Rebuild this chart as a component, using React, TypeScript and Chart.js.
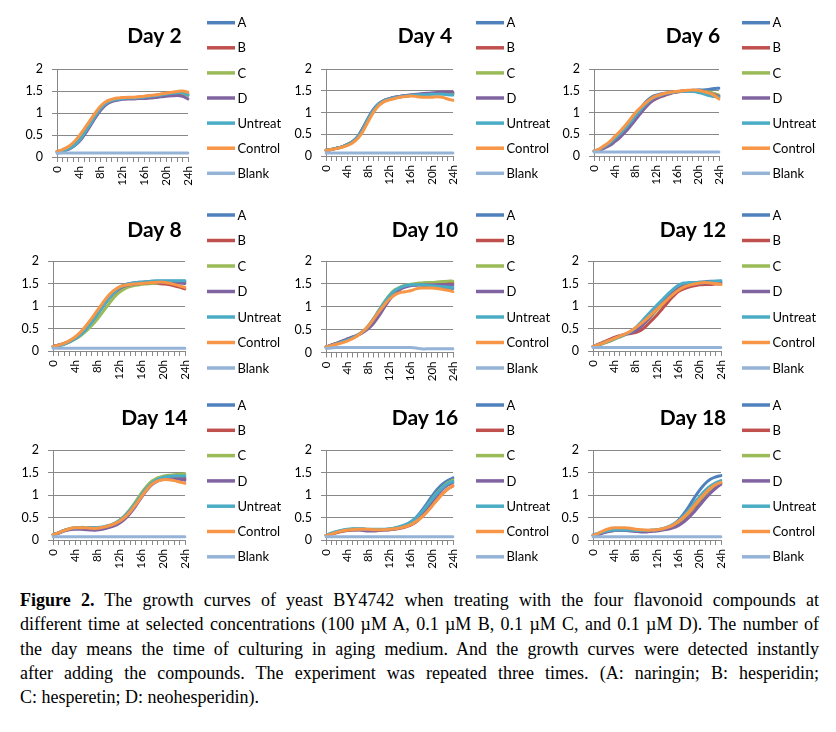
import React, { useEffect, useRef } from 'react';
import { Chart, registerables } from 'chart.js';

Chart.register(...registerables);

// ---------- categories, names, tick labels ----------
const HOURS = ['0','1h','2h','3h','4h','5h','6h','7h','8h','9h','10h','11h','12h','13h','14h','15h','16h','17h','18h','19h','20h','21h','22h','23h','24h'];
const SHOWN_TICKS = ['0','4h','8h','12h','16h','20h','24h'];
const Y_TICKS = [0, 0.5, 1, 1.5, 2];
const SERIES_NAMES = ['A','B','C','D','Untreat','Control','Blank'];
const SERIES_COLORS = ['#4F81BD','#C0504D','#9BBB59','#8064A2','#4BACC6','#F79646','#95B3D7'];
const PANEL_TITLES = ['Day 2','Day 4','Day 6','Day 8','Day 10','Day 12','Day 14','Day 16','Day 18'];

// ---------- Day 2 ----------
const D2_A = [0.12,0.14,0.18,0.25,0.36,0.52,0.71,0.91,1.08,1.20,1.27,1.31,1.33,1.34,1.34,1.35,1.36,1.38,1.39,1.41,1.43,1.45,1.46,1.45,1.40];
const D2_B = [0.12,0.15,0.19,0.27,0.39,0.56,0.75,0.95,1.11,1.23,1.29,1.32,1.34,1.35,1.35,1.36,1.37,1.39,1.40,1.42,1.44,1.46,1.47,1.46,1.42];
const D2_C = [0.12,0.14,0.18,0.25,0.36,0.53,0.72,0.92,1.09,1.21,1.28,1.31,1.33,1.34,1.34,1.35,1.36,1.37,1.38,1.40,1.42,1.44,1.45,1.44,1.41];
const D2_D = [0.12,0.14,0.17,0.24,0.34,0.50,0.69,0.89,1.06,1.19,1.26,1.29,1.31,1.32,1.32,1.33,1.33,1.34,1.35,1.37,1.38,1.39,1.40,1.38,1.32];
const D2_U = [0.12,0.14,0.18,0.25,0.37,0.54,0.73,0.93,1.10,1.22,1.28,1.31,1.33,1.34,1.34,1.35,1.36,1.38,1.39,1.41,1.43,1.45,1.46,1.46,1.42];
const D2_K = [0.12,0.17,0.23,0.33,0.47,0.64,0.82,1.00,1.16,1.26,1.31,1.34,1.35,1.36,1.36,1.37,1.38,1.40,1.41,1.43,1.45,1.47,1.49,1.50,1.47];
const D2_BL = [0.08,0.09,0.09,0.09,0.09,0.09,0.09,0.09,0.09,0.09,0.09,0.09,0.09,0.09,0.09,0.09,0.09,0.09,0.09,0.09,0.09,0.09,0.09,0.09,0.09];

// ---------- Day 4 ----------
const D4_A = [0.13,0.15,0.18,0.21,0.26,0.33,0.45,0.65,0.88,1.08,1.21,1.28,1.32,1.35,1.37,1.39,1.40,1.41,1.42,1.43,1.44,1.45,1.45,1.45,1.45];
const D4_B = [0.13,0.15,0.18,0.21,0.26,0.32,0.43,0.62,0.85,1.05,1.19,1.27,1.31,1.34,1.36,1.38,1.39,1.40,1.41,1.42,1.43,1.44,1.44,1.44,1.43];
const D4_C = [0.13,0.15,0.18,0.21,0.26,0.32,0.43,0.62,0.85,1.05,1.19,1.27,1.31,1.34,1.36,1.38,1.39,1.40,1.41,1.42,1.43,1.44,1.44,1.44,1.44];
const D4_D = [0.13,0.15,0.18,0.21,0.26,0.33,0.44,0.64,0.87,1.07,1.20,1.28,1.32,1.35,1.37,1.39,1.40,1.42,1.43,1.44,1.45,1.46,1.47,1.47,1.47];
const D4_U = [0.13,0.15,0.18,0.21,0.26,0.32,0.43,0.62,0.86,1.06,1.20,1.27,1.31,1.34,1.36,1.38,1.39,1.40,1.41,1.41,1.42,1.42,1.42,1.41,1.40];
const D4_K = [0.13,0.15,0.17,0.20,0.24,0.30,0.40,0.57,0.80,1.01,1.16,1.25,1.29,1.32,1.35,1.37,1.38,1.37,1.35,1.35,1.35,1.36,1.35,1.31,1.28];
const D4_BL = [0.07,0.07,0.07,0.07,0.07,0.07,0.07,0.07,0.07,0.07,0.07,0.07,0.07,0.07,0.07,0.07,0.07,0.07,0.07,0.07,0.07,0.07,0.07,0.07,0.07];

// ---------- Day 6 ----------
const D6_A = [0.11,0.15,0.22,0.30,0.40,0.51,0.64,0.78,0.94,1.10,1.25,1.35,1.40,1.43,1.45,1.47,1.48,1.49,1.50,1.51,1.52,1.52,1.53,1.55,1.56];
const D6_B = [0.11,0.14,0.20,0.27,0.36,0.46,0.58,0.72,0.87,1.01,1.14,1.25,1.32,1.37,1.41,1.45,1.47,1.49,1.50,1.50,1.50,1.49,1.46,1.43,1.38];
const D6_C = [0.11,0.15,0.21,0.28,0.38,0.48,0.61,0.75,0.90,1.04,1.17,1.28,1.35,1.40,1.43,1.46,1.48,1.49,1.50,1.50,1.50,1.49,1.47,1.44,1.40];
const D6_D = [0.11,0.13,0.18,0.24,0.33,0.43,0.55,0.69,0.84,0.99,1.13,1.25,1.33,1.38,1.42,1.46,1.48,1.49,1.50,1.50,1.49,1.48,1.45,1.41,1.37];
const D6_U = [0.11,0.15,0.22,0.30,0.40,0.51,0.64,0.78,0.93,1.07,1.20,1.31,1.37,1.41,1.44,1.46,1.48,1.49,1.49,1.48,1.46,1.43,1.39,1.37,1.35];
const D6_K = [0.11,0.16,0.24,0.33,0.45,0.57,0.70,0.85,1.00,1.12,1.23,1.32,1.38,1.42,1.45,1.47,1.49,1.50,1.51,1.52,1.51,1.48,1.45,1.40,1.31];
const D6_BL = [0.09,0.09,0.09,0.09,0.09,0.09,0.09,0.09,0.09,0.09,0.09,0.09,0.09,0.09,0.09,0.09,0.09,0.09,0.09,0.09,0.09,0.09,0.09,0.09,0.09];

// ---------- Day 8 ----------
const D8_A = [0.10,0.13,0.16,0.21,0.28,0.38,0.51,0.66,0.83,1.00,1.17,1.31,1.41,1.47,1.50,1.52,1.53,1.54,1.55,1.55,1.55,1.55,1.55,1.55,1.55];
const D8_B = [0.10,0.13,0.17,0.22,0.29,0.39,0.52,0.67,0.84,1.01,1.17,1.30,1.39,1.44,1.47,1.49,1.50,1.51,1.51,1.50,1.49,1.48,1.45,1.42,1.38];
const D8_C = [0.10,0.12,0.15,0.20,0.26,0.34,0.44,0.56,0.70,0.86,1.02,1.18,1.30,1.38,1.43,1.46,1.48,1.49,1.50,1.51,1.52,1.52,1.52,1.52,1.52];
const D8_D = [0.10,0.13,0.16,0.21,0.28,0.38,0.50,0.65,0.81,0.98,1.14,1.28,1.38,1.44,1.47,1.49,1.50,1.51,1.52,1.52,1.52,1.52,1.52,1.51,1.50];
const D8_U = [0.10,0.12,0.15,0.20,0.27,0.36,0.48,0.63,0.80,0.97,1.14,1.29,1.40,1.46,1.50,1.52,1.53,1.54,1.55,1.56,1.56,1.56,1.56,1.56,1.56];
const D8_K = [0.10,0.13,0.17,0.23,0.31,0.42,0.56,0.72,0.89,1.06,1.22,1.34,1.42,1.46,1.48,1.49,1.50,1.51,1.52,1.53,1.53,1.51,1.48,1.45,1.41];
const D8_BL = [0.06,0.06,0.06,0.06,0.06,0.06,0.06,0.06,0.06,0.06,0.06,0.06,0.06,0.06,0.06,0.06,0.06,0.06,0.06,0.06,0.06,0.06,0.06,0.06,0.06];

// ---------- Day 10 ----------
const D10_A = [0.12,0.16,0.20,0.24,0.28,0.33,0.38,0.46,0.57,0.72,0.89,1.06,1.21,1.33,1.40,1.45,1.47,1.48,1.47,1.46,1.45,1.44,1.42,1.41,1.40];
const D10_B = [0.12,0.16,0.20,0.24,0.28,0.33,0.38,0.45,0.55,0.70,0.87,1.04,1.20,1.33,1.41,1.45,1.47,1.48,1.49,1.49,1.50,1.50,1.51,1.51,1.52];
const D10_C = [0.12,0.15,0.19,0.23,0.27,0.32,0.38,0.46,0.58,0.74,0.92,1.10,1.26,1.37,1.43,1.47,1.49,1.51,1.52,1.53,1.53,1.54,1.55,1.56,1.56];
const D10_D = [0.12,0.16,0.20,0.25,0.30,0.34,0.38,0.44,0.52,0.64,0.80,0.98,1.15,1.29,1.38,1.43,1.46,1.47,1.48,1.48,1.48,1.48,1.48,1.48,1.48];
const D10_U = [0.12,0.15,0.19,0.23,0.27,0.32,0.38,0.46,0.58,0.74,0.92,1.09,1.24,1.35,1.42,1.46,1.48,1.48,1.48,1.47,1.46,1.45,1.44,1.43,1.42];
const D10_K = [0.12,0.15,0.18,0.21,0.25,0.30,0.37,0.46,0.58,0.73,0.89,1.04,1.17,1.26,1.31,1.33,1.35,1.39,1.41,1.41,1.41,1.40,1.38,1.36,1.33];
const D10_BL = [0.09,0.10,0.11,0.11,0.11,0.11,0.11,0.11,0.11,0.11,0.11,0.11,0.11,0.11,0.11,0.11,0.11,0.10,0.08,0.08,0.08,0.08,0.08,0.08,0.08];

// ---------- Day 12 ----------
const D12_A = [0.10,0.14,0.18,0.22,0.27,0.32,0.37,0.42,0.49,0.59,0.72,0.85,0.98,1.10,1.22,1.33,1.42,1.48,1.51,1.52,1.53,1.54,1.55,1.55,1.55];
const D12_B = [0.10,0.15,0.20,0.25,0.30,0.34,0.37,0.39,0.41,0.46,0.56,0.68,0.80,0.94,1.08,1.21,1.32,1.38,1.42,1.45,1.47,1.48,1.48,1.49,1.49];
const D12_C = [0.10,0.13,0.17,0.21,0.26,0.31,0.36,0.42,0.48,0.56,0.66,0.78,0.91,1.04,1.17,1.29,1.38,1.44,1.48,1.50,1.51,1.52,1.52,1.52,1.52];
const D12_D = [0.10,0.14,0.18,0.23,0.28,0.33,0.37,0.40,0.45,0.54,0.66,0.80,0.94,1.07,1.19,1.30,1.38,1.44,1.47,1.49,1.50,1.51,1.51,1.51,1.51];
const D12_U = [0.10,0.14,0.18,0.22,0.27,0.32,0.37,0.43,0.52,0.64,0.77,0.90,1.02,1.14,1.26,1.37,1.46,1.51,1.52,1.52,1.53,1.53,1.54,1.55,1.56];
const D12_K = [0.10,0.14,0.18,0.23,0.28,0.33,0.38,0.44,0.52,0.61,0.71,0.82,0.93,1.04,1.15,1.26,1.35,1.42,1.46,1.49,1.51,1.52,1.51,1.50,1.48];
const D12_BL = [0.08,0.08,0.08,0.08,0.08,0.08,0.08,0.08,0.08,0.08,0.08,0.08,0.08,0.08,0.08,0.08,0.08,0.08,0.08,0.08,0.08,0.08,0.08,0.08,0.08];

// ---------- Day 14 ----------
const D14_A = [0.12,0.16,0.21,0.24,0.26,0.26,0.26,0.25,0.25,0.27,0.30,0.35,0.42,0.52,0.66,0.83,1.01,1.17,1.29,1.36,1.40,1.41,1.41,1.40,1.38];
const D14_B = [0.12,0.16,0.21,0.24,0.26,0.26,0.25,0.24,0.24,0.26,0.29,0.34,0.41,0.51,0.64,0.81,0.98,1.14,1.26,1.33,1.37,1.38,1.38,1.37,1.35];
const D14_C = [0.12,0.16,0.21,0.25,0.27,0.27,0.27,0.26,0.26,0.28,0.31,0.36,0.43,0.54,0.68,0.85,1.03,1.19,1.31,1.38,1.42,1.44,1.45,1.46,1.47];
const D14_D = [0.12,0.15,0.20,0.23,0.24,0.24,0.23,0.22,0.22,0.24,0.27,0.31,0.37,0.46,0.59,0.75,0.93,1.10,1.23,1.31,1.35,1.36,1.36,1.35,1.33];
const D14_U = [0.12,0.16,0.21,0.25,0.27,0.28,0.28,0.28,0.28,0.29,0.32,0.36,0.43,0.53,0.66,0.82,0.99,1.15,1.27,1.35,1.39,1.41,1.42,1.42,1.42];
const D14_K = [0.12,0.16,0.21,0.25,0.27,0.27,0.27,0.26,0.26,0.28,0.31,0.35,0.41,0.50,0.62,0.78,0.95,1.11,1.24,1.31,1.34,1.34,1.32,1.29,1.26];
const D14_BL = [0.07,0.07,0.07,0.07,0.07,0.07,0.07,0.07,0.07,0.07,0.07,0.07,0.07,0.07,0.07,0.07,0.07,0.07,0.07,0.07,0.07,0.07,0.07,0.07,0.07];

// ---------- Day 16 ----------
const D16_A = [0.10,0.14,0.18,0.21,0.23,0.24,0.24,0.24,0.23,0.23,0.23,0.23,0.24,0.26,0.29,0.33,0.40,0.50,0.64,0.80,0.97,1.12,1.24,1.32,1.38];
const D16_B = [0.10,0.13,0.16,0.19,0.21,0.22,0.23,0.23,0.23,0.23,0.23,0.23,0.23,0.24,0.26,0.29,0.33,0.40,0.50,0.62,0.76,0.90,1.03,1.13,1.20];
const D16_C = [0.10,0.14,0.18,0.21,0.23,0.24,0.24,0.24,0.23,0.23,0.23,0.23,0.24,0.26,0.28,0.32,0.38,0.47,0.59,0.74,0.90,1.05,1.17,1.27,1.33];
const D16_D = [0.10,0.13,0.17,0.20,0.22,0.22,0.22,0.21,0.20,0.20,0.21,0.22,0.23,0.25,0.27,0.31,0.37,0.46,0.57,0.70,0.85,1.00,1.13,1.22,1.28];
const D16_U = [0.10,0.15,0.19,0.22,0.24,0.25,0.25,0.25,0.24,0.24,0.24,0.24,0.25,0.27,0.30,0.34,0.40,0.49,0.61,0.75,0.90,1.04,1.16,1.25,1.30];
const D16_K = [0.10,0.13,0.17,0.20,0.22,0.23,0.24,0.24,0.24,0.23,0.23,0.23,0.24,0.25,0.27,0.30,0.34,0.41,0.50,0.61,0.75,0.89,1.02,1.13,1.21];
const D16_BL = [0.07,0.07,0.07,0.07,0.07,0.07,0.07,0.07,0.07,0.07,0.07,0.07,0.07,0.07,0.07,0.07,0.07,0.07,0.07,0.07,0.07,0.07,0.07,0.07,0.07];

// ---------- Day 18 ----------
const D18_A = [0.10,0.13,0.17,0.20,0.21,0.22,0.22,0.22,0.21,0.20,0.20,0.21,0.22,0.24,0.28,0.34,0.44,0.58,0.75,0.94,1.11,1.25,1.35,1.40,1.43];
const D18_B = [0.10,0.13,0.18,0.21,0.23,0.23,0.23,0.22,0.21,0.20,0.20,0.21,0.22,0.24,0.27,0.31,0.38,0.47,0.59,0.72,0.86,1.00,1.12,1.21,1.27];
const D18_C = [0.10,0.13,0.17,0.20,0.21,0.22,0.22,0.22,0.21,0.20,0.20,0.21,0.22,0.24,0.27,0.32,0.39,0.49,0.61,0.75,0.89,1.02,1.13,1.21,1.26];
const D18_D = [0.10,0.12,0.16,0.19,0.21,0.21,0.21,0.20,0.19,0.18,0.18,0.19,0.20,0.22,0.24,0.27,0.32,0.40,0.50,0.63,0.77,0.91,1.04,1.15,1.24];
const D18_U = [0.12,0.15,0.18,0.21,0.22,0.22,0.22,0.22,0.21,0.21,0.21,0.22,0.23,0.25,0.29,0.35,0.43,0.54,0.67,0.82,0.97,1.10,1.20,1.27,1.32];
const D18_K = [0.10,0.15,0.21,0.25,0.27,0.27,0.27,0.26,0.24,0.23,0.22,0.22,0.23,0.25,0.28,0.33,0.41,0.51,0.63,0.77,0.91,1.04,1.15,1.23,1.28];
const D18_BL = [0.07,0.07,0.07,0.07,0.07,0.07,0.07,0.07,0.07,0.07,0.07,0.07,0.07,0.07,0.07,0.07,0.07,0.07,0.07,0.07,0.07,0.07,0.07,0.07,0.07];

const PANEL_SERIES = [
  [D2_A, D2_B, D2_C, D2_D, D2_U, D2_K, D2_BL],
  [D4_A, D4_B, D4_C, D4_D, D4_U, D4_K, D4_BL],
  [D6_A, D6_B, D6_C, D6_D, D6_U, D6_K, D6_BL],
  [D8_A, D8_B, D8_C, D8_D, D8_U, D8_K, D8_BL],
  [D10_A, D10_B, D10_C, D10_D, D10_U, D10_K, D10_BL],
  [D12_A, D12_B, D12_C, D12_D, D12_U, D12_K, D12_BL],
  [D14_A, D14_B, D14_C, D14_D, D14_U, D14_K, D14_BL],
  [D16_A, D16_B, D16_C, D16_D, D16_U, D16_K, D16_BL],
  [D18_A, D18_B, D18_C, D18_D, D18_U, D18_K, D18_BL],
];

const CAPTION_LINES = [
  ' The growth curves of yeast BY4742 when treating with the four flavonoid compounds at',
  'different time at selected concentrations (100 \u00b5M A, 0.1 \u00b5M B, 0.1 \u00b5M C, and 0.1 \u00b5M D). The number of',
  'the day means the time of culturing in aging medium.  And the growth curves were detected instantly',
  'after adding the compounds. The experiment was repeated three times. (A: naringin; B: hesperidin;',
  'C: hesperetin; D: neohesperidin).',
];

// ---------- layout (styling only) ----------
const CANVAS_X = [0, 290, 560];
const CANVAS_W = [290, 270, 276];
const CANVAS_Y = [0, 195, 385];
const CANVAS_H = [195, 190, 195];
// chart area inside each canvas: left, right, top, bottom
const AREAS = [
  [57, 188, 69, 157], [36, 163, 69, 156], [34, 159, 69, 156],
  [53, 185, 66, 156], [36, 163, 66, 157.5], [33, 161, 66, 156],
  [53, 185, 65, 155], [36, 163, 65, 155], [33, 161, 65, 155],
];
const LEG_X = [207, 186, 182];
const LEG_Y = [22.7, 20, 20];
const LEG_STEP = [25.1, 25.5, 25.3];
const TITLE_X = [154.5, 135, 133];
const TITLE_Y = [42.5, 41.7, 40];
const Y_W = 33;
const X_H = 30;
const GRID = '#888888';
const FONT = 'Lato, "Liberation Sans", sans-serif';

const decorPlugin = {
  id: 'decor',
  afterDraw(chart: any, _args: any, opts: any) {
    const ctx = chart.ctx;
    ctx.save();
    ctx.fillStyle = '#000';
    ctx.font = `bold 21px ${FONT}`;
    ctx.textAlign = 'center';
    ctx.textBaseline = 'alphabetic';
    ctx.fillText(opts.title, opts.titleX, opts.titleY);
    chart.data.datasets.forEach((ds: any, i: number) => {
      const y = opts.legY + i * opts.legStep;
      ctx.strokeStyle = ds.borderColor;
      ctx.lineWidth = 3.5;
      ctx.lineCap = 'butt';
      ctx.beginPath();
      ctx.moveTo(opts.legX, y);
      ctx.lineTo(opts.legX + 28, y);
      ctx.stroke();
      ctx.fillStyle = '#000';
      ctx.font = `13px ${FONT}`;
      ctx.textAlign = 'left';
      ctx.textBaseline = 'middle';
      ctx.fillText(ds.label, opts.legX + 30.5, y + 0.5);
    });
    ctx.restore();
  },
};

function Panel({ idx }: { idx: number }) {
  const ref = useRef<HTMLCanvasElement>(null);
  const col = idx % 3;
  const row = Math.floor(idx / 3);
  const W = CANVAS_W[col];
  const H = CANVAS_H[row];

  useEffect(() => {
    const a = AREAS[idx];
    const chart = new Chart(ref.current as HTMLCanvasElement, {
      type: 'line',
      data: {
        labels: HOURS,
        datasets: SERIES_NAMES.map((name, i) => ({
          label: name,
          data: PANEL_SERIES[idx][i],
          borderColor: SERIES_COLORS[i],
          backgroundColor: SERIES_COLORS[i],
          borderWidth: 3,
          pointRadius: 0,
          pointHoverRadius: 0,
          tension: 0.35,
          fill: false,
          borderJoinStyle: 'round',
          borderCapStyle: 'round',
          order: SERIES_NAMES.length - 1 - i,
        })),
      },
      options: {
        responsive: false,
        animation: false,
        events: [],
        layout: {
          padding: { left: Math.max(0, a[0] - Y_W), right: W - a[1], top: a[2], bottom: H - a[3] - X_H },
        },
        plugins: {
          legend: { display: false },
          title: { display: false },
          tooltip: { enabled: false },
          decor: {
            title: PANEL_TITLES[idx],
            titleX: TITLE_X[col],
            titleY: TITLE_Y[row],
            legX: LEG_X[col],
            legY: LEG_Y[row],
            legStep: LEG_STEP[row],
          },
        } as any,
        scales: {
          x: {
            type: 'category',
            offset: false,
            grid: { drawOnChartArea: false, drawTicks: true, tickLength: 5, color: GRID },
            border: { display: true, color: GRID, width: 1 },
            ticks: {
              autoSkip: false,
              minRotation: 90,
              maxRotation: 90,
              padding: 4,
              color: '#000',
              font: { family: FONT, size: 11.5 },
              callback: (_v: any, i: number) => (SHOWN_TICKS.includes(HOURS[i]) ? HOURS[i] : ''),
            },
            afterFit: (s: any) => { s.height = X_H; },
          },
          y: {
            min: Y_TICKS[0],
            max: Y_TICKS[Y_TICKS.length - 1],
            afterBuildTicks: (s: any) => { s.ticks = Y_TICKS.map((v) => ({ value: v })); },
            grid: { color: GRID, tickLength: 5, drawTicks: true },
            border: { display: true, color: GRID, width: 1 },
            ticks: {
              padding: 9,
              color: '#000',
              font: { family: FONT, size: 12.5 },
              callback: (v: any) => String(v),
            },
            afterFit: (s: any) => { s.width = Y_W; },
          },
        },
      } as any,
      plugins: [decorPlugin],
    });
    return () => chart.destroy();
  }, [idx]);

  return (
    <canvas
      ref={ref}
      width={W}
      height={H}
      style={{ position: 'absolute', left: CANVAS_X[col], top: CANVAS_Y[row], width: W, height: H }}
    />
  );
}

export default function App() {
  return (
    <div style={{ position: 'absolute', left: 0, top: 0, width: 836, height: 732, background: '#fff', overflow: 'hidden' }}>
      {PANEL_TITLES.map((_t, i) => (
        <Panel key={i} idx={i} />
      ))}
      <div
        style={{
          position: 'absolute',
          left: 20,
          top: 588,
          width: 799,
          fontFamily: '"Liberation Serif", "Times New Roman", serif',
          fontSize: 18,
          lineHeight: '24.3px',
          color: '#000',
        }}
      >
        {CAPTION_LINES.map((ln, i) => (
          <div
            key={i}
            style={{
              textAlign: 'justify',
              textAlignLast: i < CAPTION_LINES.length - 1 ? 'justify' : 'left',
            } as any}
          >
            {i === 0 ? (
              <>
                <b>Figure 2.</b>
                {ln}
              </>
            ) : (
              ln
            )}
          </div>
        ))}
      </div>
    </div>
  );
}
